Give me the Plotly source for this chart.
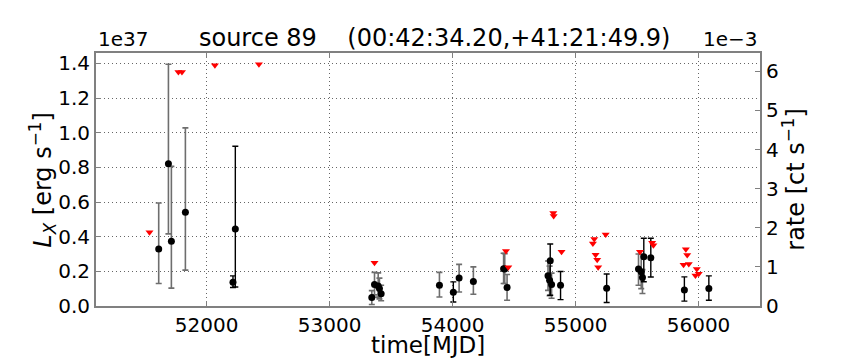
import plotly.graph_objects as go

# ── Data (L_X in units of 1e37 erg/s, time in MJD) ───────────────────────────
# detections drawn with grey error bars
mjd_grey = [51610, 51689, 51713, 51827, 53343, 53365, 53395, 53405, 53419,
            53893, 54053, 54169, 54415, 54424, 54443, 54776, 54789, 54805,
            55512, 55534, 55544]
lx_grey = [0.329, 0.821, 0.373, 0.541, 0.049, 0.124, 0.116, 0.101, 0.070,
           0.120, 0.161, 0.141, 0.215, 0.213, 0.107, 0.174, 0.149, 0.124,
           0.213, 0.197, 0.165]
err_hi_grey = [0.265, 0.574, 0.433, 0.487, 0.040, 0.070, 0.075, 0.060, 0.050,
               0.074, 0.079, 0.085, 0.089, 0.089, 0.075, 0.086, 0.081, 0.066,
               0.087, 0.103, 0.045]
err_lo_grey = [0.199, 0.405, 0.270, 0.334, 0.040, 0.060, 0.065, 0.060, 0.040,
               0.068, 0.080, 0.073, 0.085, 0.083, 0.074, 0.084, 0.089, 0.079,
               0.093, 0.097, 0.093]

# detections drawn with black error bars
mjd_black = [52214, 52233, 54006, 54794, 54878, 55253, 55555, 55612, 55885, 56084]
lx_black = [0.137, 0.445, 0.079, 0.261, 0.120, 0.103, 0.284, 0.278, 0.093, 0.101]
err_hi_black = [0.037, 0.477, 0.060, 0.097, 0.079, 0.082, 0.107, 0.113, 0.075, 0.073]
err_lo_black = [0.030, 0.335, 0.056, 0.199, 0.083, 0.083, 0.144, 0.111, 0.065, 0.068]

# upper limits (red triangles)
mjd_ul = [51535, 51770, 51799, 52067, 52425, 53365, 54434, 54453, 54819, 54822,
          54886, 55141, 55152, 55163, 55176, 55184, 55245, 55524, 55623, 55633,
          55878, 55897, 55908, 55921, 55975, 55986, 56002]
lx_ul = [0.425, 1.351, 1.351, 1.390, 1.395, 0.249, 0.317, 0.223, 0.536, 0.520,
         0.313, 0.361, 0.386, 0.296, 0.267, 0.223, 0.412, 0.313, 0.365, 0.350,
         0.238, 0.327, 0.294, 0.242, 0.176, 0.214, 0.186]

x_ticks = [52000, 53000, 54000, 55000, 56000]

# L_X (1e37) -> rate (1e-3 ct/s) scale shared by both y axes
L_PER_RATE = 1.46 / 6.47

FONT = "DejaVu Sans"
AXIS_GREY = "#808080"
GRID = "#666666"

fig = go.Figure()

fig.add_trace(go.Scatter(
    x=mjd_grey, y=lx_grey, mode="markers",
    marker=dict(color="black", size=7),
    error_y=dict(type="data", array=err_hi_grey, arrayminus=err_lo_grey,
                 color="#6e6e6e", thickness=1.6, width=3),
    showlegend=False,
))
fig.add_trace(go.Scatter(
    x=mjd_black, y=lx_black, mode="markers",
    marker=dict(color="black", size=7),
    error_y=dict(type="data", array=err_hi_black, arrayminus=err_lo_black,
                 color="black", thickness=1.4, width=3),
    showlegend=False,
))
fig.add_trace(go.Scatter(
    x=mjd_ul, y=lx_ul, mode="markers",
    marker=dict(color="red", size=7, symbol="triangle-down"),
    showlegend=False,
))
# invisible twin so the right-hand rate axis is drawn
fig.add_trace(go.Scatter(
    x=mjd_black, y=[v / L_PER_RATE for v in lx_black], yaxis="y2",
    mode="markers", marker=dict(opacity=0), hoverinfo="skip", showlegend=False,
))

axis_common = dict(
    showline=True, linecolor=AXIS_GREY, linewidth=2,
    ticks="inside", ticklen=5, tickcolor=AXIS_GREY,
    tickfont=dict(family=FONT, size=20, color="black"),
    zeroline=False,
)
grid = dict(showgrid=True, gridcolor=GRID, griddash="1px,3px", gridwidth=1)

# page body has an 8px margin, so the figure is 8px smaller than the window
fig.update_layout(
    width=856, height=352,
    plot_bgcolor="white", paper_bgcolor="white",
    margin=dict(l=88, r=104, t=45, b=54),
    font=dict(family=FONT, color="black"),
    title=dict(text="source 89\u00a0\u00a0\u00a0\u00a0(00:42:34.20,+41:21:49.9)",
               x=0.4985, xanchor="center", y=0.915, yanchor="middle",
               font=dict(family=FONT, size=24, color="black")),
    xaxis=dict(range=[51100, 56500], tickvals=x_ticks, tickformat="d",
               mirror="ticks", **grid, **axis_common),
    yaxis=dict(range=[0, 1.46], dtick=0.2, tickformat=".1f", mirror=True,
               **grid, **axis_common),
    yaxis2=dict(range=[0, 6.47], dtick=1, overlaying="y", side="right",
                showgrid=False, **axis_common),
    annotations=[
        dict(text="1e37", xref="paper", yref="paper", x=0, y=1,
             xanchor="left", yanchor="bottom", showarrow=False,
             font=dict(family=FONT, size=20)),
        dict(text="1e\u22123", xref="paper", yref="paper", x=1, y=1,
             xanchor="right", yanchor="bottom", showarrow=False,
             font=dict(family=FONT, size=20)),
        dict(text="time[MJD]", xref="paper", yref="paper", x=0.5, y=-0.155,
             xanchor="center", yanchor="middle", showarrow=False,
             font=dict(family=FONT, size=23)),
        dict(text="<i>L</i><sub><i>X</i></sub> [erg s<sup>\u22121</sup>]",
             xref="paper", yref="paper", x=-0.081, y=0.5, textangle=-90,
             xanchor="center", yanchor="middle", showarrow=False,
             font=dict(family=FONT, size=24)),
        dict(text="rate [ct s<sup>\u22121</sup>]",
             xref="paper", yref="paper", x=1.05, y=0.5, textangle=-90,
             xanchor="center", yanchor="middle", showarrow=False,
             font=dict(family=FONT, size=24)),
    ],
)

fig.write_html("out.html")
